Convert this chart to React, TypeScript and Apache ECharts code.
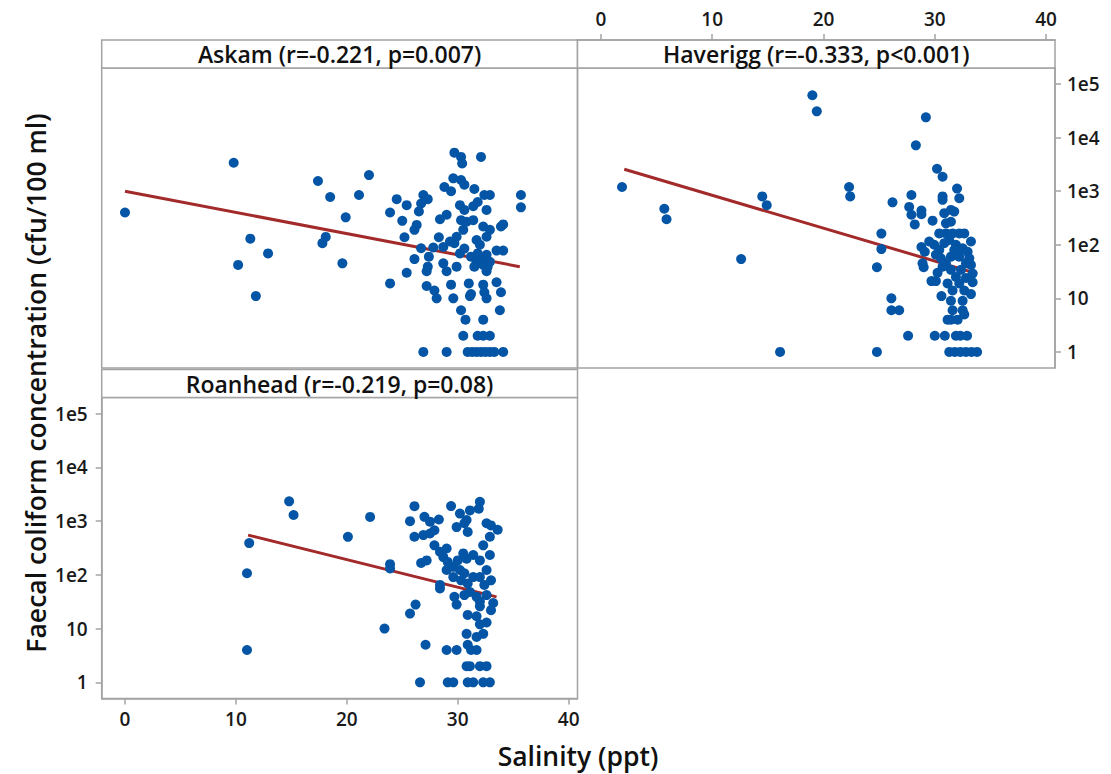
import { useEffect, useRef } from 'react';
import * as echarts from 'echarts';

// ---- data: [salinity (ppt), faecal coliform (cfu/100 ml)] ----
const askamPoints: [number, number][] = [
  [0, 400], [9.8, 3400], [11.3, 130], [10.2, 42], [12.9, 69], [11.8, 11], [17.4, 1550], [18.5, 780], [18.1, 140], [17.8, 107],
  [19.6, 45], [22.0, 2000], [21.1, 850], [19.9, 325], [23.9, 19], [24.5, 710], [25.4, 550], [23.9, 400], [25.0, 280], [25.2, 138],
  [26.3, 235], [26.1, 190], [26.9, 850], [27.3, 710], [26.7, 590], [26.5, 420], [26.7, 86], [26.1, 54], [25.4, 30], [27.4, 60],
  [27.3, 39], [27.2, 32], [27.8, 89], [28.3, 138], [28.4, 300], [29.0, 363], [28.8, 1200], [29.4, 1000], [29.6, 1740], [30.3, 1620],
  [30.6, 1320], [29.7, 5250], [30.3, 4370], [30.4, 3310], [32.1, 4370], [31.5, 1100], [32.4, 850], [32.9, 850], [30.2, 550], [30.6, 447],
  [31.4, 525], [31.8, 630], [32.6, 447], [30.3, 288], [30.8, 269], [30.5, 190], [31.4, 288], [29.9, 141], [29.7, 107], [28.7, 91],
  [29.3, 115], [30.2, 69], [30.6, 85], [32.3, 219], [32.9, 190], [32.6, 141], [33.9, 219], [34.1, 240], [31.7, 123], [32.0, 100],
  [31.2, 60], [31.7, 48], [32.1, 56], [32.6, 65], [32.9, 48], [31.5, 39], [32.3, 42], [31.8, 69], [32.7, 39], [32.6, 32],
  [33.5, 78], [34.1, 78], [29.9, 39], [29.0, 32], [28.7, 45], [35.7, 850], [35.7, 500], [33.5, 20], [33.9, 13], [33.8, 6],
  [27.2, 17], [27.9, 14], [28.1, 10], [29.4, 18], [29.6, 10], [31.0, 19], [31.1, 11], [31.2, 12], [32.3, 18], [32.4, 13],
  [32.6, 10], [30.3, 6], [30.7, 4], [32.3, 4], [30.5, 2], [31.8, 2], [32.3, 2], [32.9, 2], [26.9, 1], [29.0, 1],
  [30.9, 1], [31.3, 1], [31.7, 1], [32.1, 1], [32.5, 1], [32.9, 1], [33.3, 1], [34.1, 1],
];

const haveriggPoints: [number, number][] = [
  [1.9, 1200], [5.7, 470], [5.9, 300], [12.6, 54], [14.5, 800], [14.9, 550], [16.1, 1], [19.0, 62000], [19.4, 31000], [29.2, 24000],
  [28.3, 7200], [30.2, 2630], [30.7, 1860], [22.3, 1200], [22.4, 800], [26.2, 620], [27.9, 850], [27.7, 510], [27.9, 363], [28.2, 240],
  [28.8, 437], [28.8, 372], [29.8, 282], [32.0, 1120], [32.2, 740], [30.7, 800], [30.7, 690], [25.2, 162], [25.2, 83], [24.8, 38],
  [26.1, 10], [26.1, 6], [26.8, 6], [27.6, 2], [24.8, 1], [30.0, 2], [30.9, 2], [31.9, 2], [32.3, 2], [32.9, 2],
  [31.3, 1], [31.8, 1], [32.3, 1], [32.8, 1], [33.3, 1], [33.8, 1], [28.8, 91], [29.1, 74], [28.9, 45], [29.0, 38],
  [29.7, 21], [30.1, 21], [30.6, 11],
  [30.85, 389], [31.45, 447], [31.75, 417], [31.0, 251], [31.45, 269], [30.4, 163], [31.0, 163], [31.6, 163], [32.2, 163], [32.65, 163],
  [33.25, 115], [29.5, 115], [29.95, 100], [30.4, 80], [30.85, 107], [31.3, 123], [31.9, 100], [32.5, 86], [32.95, 74], [33.1, 56],
  [33.25, 42], [33.4, 29], [33.4, 20], [32.8, 45], [32.35, 34], [31.9, 25], [31.45, 34], [31.0, 45], [30.7, 39], [31.15, 19],
  [31.6, 14], [32.2, 19], [32.65, 14], [33.25, 12], [32.5, 9], [31.45, 9], [31.6, 6], [31.45, 4], [32.05, 4], [32.65, 5],
  [32.5, 6], [31.15, 4], [30.1, 65], [30.55, 56], [30.25, 30], [32.8, 24], [32.2, 60], [31.45, 60], [31.75, 80],
];

const roanheadPoints: [number, number][] = [
  [14.8, 2340], [15.2, 1300], [11.2, 390], [11.0, 107], [11.0, 4], [20.1, 510], [22.1, 1200], [23.9, 158], [23.9, 132], [23.4, 10],
  [25.7, 19], [26.2, 28], [27.1, 5], [26.6, 1], [26.1, 1900], [25.7, 1000], [26.1, 513], [26.9, 550], [27.5, 589], [27.9, 676],
  [27.0, 1202], [27.5, 977], [28.3, 1072], [26.7, 166], [27.2, 186], [27.9, 355], [28.4, 269], [29.0, 309], [29.4, 1905], [30.2, 1380],
  [30.8, 1047], [31.1, 1585], [32.0, 2291], [31.9, 1698], [30.9, 631], [29.9, 776], [30.6, 912], [32.6, 912], [33.0, 832], [33.6, 692],
  [32.9, 513], [32.3, 355],
  [28.7, 214], [29.1, 174], [29.6, 141], [30.0, 186], [30.5, 251], [30.8, 200], [31.4, 234], [32.0, 186], [32.9, 234], [30.2, 123],
  [30.6, 107], [29.0, 123], [29.6, 91], [30.3, 79], [30.9, 69], [31.4, 91], [32.0, 91], [32.6, 123], [33.0, 79], [32.4, 65],
  [28.4, 65], [28.4, 56], [29.7, 39], [29.9, 28], [30.6, 42], [31.1, 48], [31.7, 39], [32.0, 32], [32.0, 26], [32.6, 42],
  [33.2, 30], [33.0, 22], [30.9, 18], [31.7, 17], [32.6, 13], [32.0, 12], [32.3, 8], [30.8, 8], [30.9, 5], [31.7, 7],
  [31.2, 4], [29.0, 4], [29.9, 4], [31.7, 4],
  [30.8, 2], [31.1, 2], [32.0, 2], [32.6, 2],
  [29.1, 1], [29.6, 1], [30.9, 1], [31.4, 1], [32.3, 1], [32.9, 1],
];

// fitted regression lines (end points)
const askamFit: [number, number][] = [[0, 1000], [35.6, 39]];
const haveriggFit: [number, number][] = [[2.1, 2570], [33.8, 29]];
const roanheadFit: [number, number][] = [[11.1, 550], [33.5, 39]];

const panelTitles = ['Askam (r=-0.221, p=0.007)', 'Haverigg (r=-0.333, p<0.001)', 'Roanhead (r=-0.219, p=0.08)'];
const salinityTicks = [0, 10, 20, 30, 40];
const fcTickValues = [1, 10, 100, 1000, 10000, 100000];
const fcTickLabels = ['1', '10', '1e2', '1e3', '1e4', '1e5'];
const xTitle = 'Salinity (ppt)';
const yTitle = 'Faecal coliform concentration (cfu/100 ml)';

const FONT = "'Open Sans', 'Noto Sans', sans-serif";
const GRAY = '#a3a3a3';
const DOT = '#0455a5';
const FIT = '#a32a2a';

const Y_MIN = Math.log10(0.5);
const Y_MAX = Math.log10(200000);

const toLog = (pts: [number, number][]) => pts.map(([x, y]) => [x, Math.log10(y)]);
const fcTickPos = fcTickValues.map((v) => Math.log10(v));

const grids = [
  { left: 101.7, top: 68, width: 475.8, height: 300 },
  { left: 577.5, top: 68, width: 477.5, height: 300 },
  { left: 101.7, top: 397.5, width: 475.8, height: 301 },
];

export default function App() {
  const ref = useRef<HTMLDivElement>(null);
  useEffect(() => {
    const chart = echarts.init(ref.current!, null, { renderer: 'svg' });
    const labelStyle = { color: '#1a1a1a', fontSize: 19, fontFamily: FONT, fontWeight: 600 as any };
    const tick = { length: 6, lineStyle: { color: GRAY, width: 1.5 } };
    const line = { onZero: false, lineStyle: { color: GRAY, width: 1.5 } };
    const xAxisFor = (i: number, extra: any) => ({
      type: 'value', gridIndex: i, min: -2.1, max: 40.8, splitLine: { show: false }, ...extra,
    });
    const yAxisFor = (i: number, extra: any) => ({
      type: 'value', gridIndex: i, min: Y_MIN, max: Y_MAX, splitLine: { show: false }, ...extra,
    });
    const yFormatter = (v: number) => {
      const idx = fcTickPos.findIndex((p) => Math.abs(p - v) < 1e-6);
      return idx >= 0 ? fcTickLabels[idx] : '';
    };
    const stripGraphic = (i: number, y: number) => [
      {
        type: 'rect',
        shape: { x: grids[i].left, y, width: grids[i].width, height: 28 },
        style: { fill: '#fff', stroke: GRAY, lineWidth: 1.5 },
      },
      {
        type: 'text',
        x: grids[i].left + grids[i].width / 2,
        y: y + 14,
        style: {
          text: panelTitles[i], fill: '#111', fontSize: 23, fontWeight: 600, fontFamily: FONT,
          align: 'center', verticalAlign: 'middle',
        },
      },
    ];
    const scatter = (i: number, pts: [number, number][]) => ({
      type: 'scatter', xAxisIndex: i, yAxisIndex: i, data: toLog(pts), symbolSize: 10,
      itemStyle: { color: DOT, opacity: 1 }, z: 3,
    });
    const fit = (i: number, pts: [number, number][]) => ({
      type: 'line', xAxisIndex: i, yAxisIndex: i, data: toLog(pts), symbol: 'none',
      lineStyle: { color: FIT, width: 3 }, z: 2,
    });
    chart.setOption({
      animation: false,
      backgroundColor: '#fff',
      grid: grids.map((g) => ({ ...g, show: true, borderColor: GRAY, borderWidth: 1.5, backgroundColor: 'transparent' })),
      xAxis: [
        xAxisFor(0, { show: false }),
        xAxisFor(1, {
          position: 'top', offset: 28, axisLine: { show: true, ...line },
          axisTick: { show: true, customValues: salinityTicks, ...tick },
          axisLabel: { customValues: salinityTicks, margin: 12, ...labelStyle },
        }),
        xAxisFor(2, {
          position: 'bottom', axisLine: { show: true, ...line },
          axisTick: { show: true, customValues: salinityTicks, ...tick },
          axisLabel: { customValues: salinityTicks, margin: 11, ...labelStyle },
        }),
      ],
      yAxis: [
        yAxisFor(0, { show: false }),
        yAxisFor(1, {
          position: 'right', axisLine: { show: true, ...line },
          axisTick: { show: true, customValues: fcTickPos, ...tick },
          axisLabel: { customValues: fcTickPos, margin: 12, formatter: yFormatter, ...labelStyle },
        }),
        yAxisFor(2, {
          position: 'left', axisLine: { show: true, ...line },
          axisTick: { show: true, customValues: fcTickPos, ...tick },
          axisLabel: { customValues: fcTickPos, margin: 14, formatter: yFormatter, ...labelStyle },
        }),
      ],
      series: [
        fit(0, askamFit), scatter(0, askamPoints),
        fit(1, haveriggFit), scatter(1, haveriggPoints),
        fit(2, roanheadFit), scatter(2, roanheadPoints),
      ],
      graphic: [
        ...stripGraphic(0, 40),
        ...stripGraphic(1, 40),
        ...stripGraphic(2, 369.5),
        {
          type: 'text', x: 578, y: 756,
          style: { text: xTitle, fill: '#111', fontSize: 26.5, fontWeight: 600, fontFamily: FONT, align: 'center', verticalAlign: 'middle' },
        },
        {
          type: 'text', x: 36, y: 383, rotation: Math.PI / 2,
          style: { text: yTitle, fill: '#111', fontSize: 26.5, fontWeight: 600, fontFamily: FONT, align: 'center', verticalAlign: 'middle' },
        },
      ],
    });
    return () => chart.dispose();
  }, []);
  return (
    <div
      ref={ref}
      style={{ position: 'fixed', left: 0, top: 0, width: 1111, height: 774, background: '#fff' }}
    />
  );
}
